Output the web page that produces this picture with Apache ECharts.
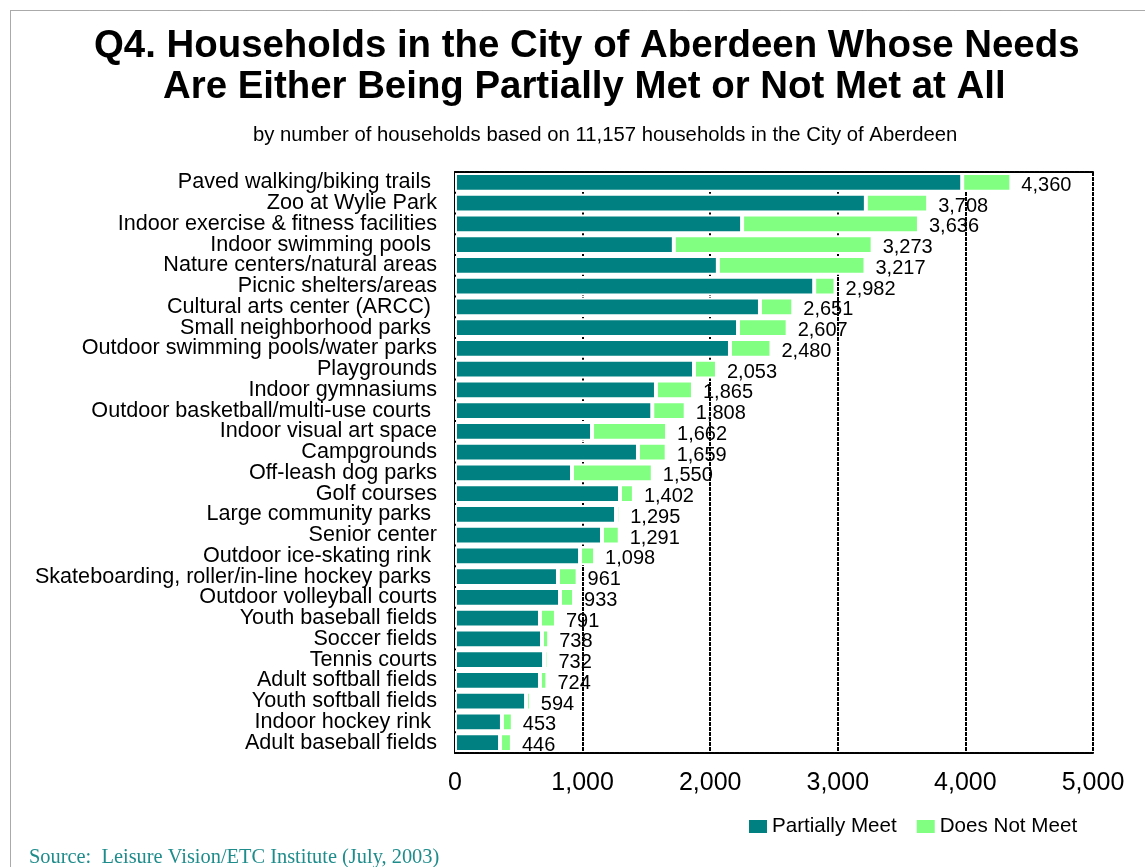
<!DOCTYPE html>
<html>
<head>
<meta charset="utf-8">
<title>Q4 Aberdeen households</title>
<script src="https://cdn.jsdelivr.net/npm/echarts@6/dist/echarts.min.js"></script>
<style>
  html, body { margin: 0; padding: 0; background: #fff; }
  #main { width: 1145px; height: 867px; }
</style>
</head>
<body>
<div id="main"></div>
<script>
  // facilities, top to bottom
  const categories = [
    'Paved walking/biking trails ', 'Zoo at Wylie Park', 'Indoor exercise & fitness facilities',
    'Indoor swimming pools ', 'Nature centers/natural areas', 'Picnic shelters/areas',
    'Cultural arts center (ARCC) ', 'Small neighborhood parks ', 'Outdoor swimming pools/water parks',
    'Playgrounds', 'Indoor gymnasiums', 'Outdoor basketball/multi-use courts ',
    'Indoor visual art space', 'Campgrounds', 'Off-leash dog parks', 'Golf courses',
    'Large community parks ', 'Senior center', 'Outdoor ice-skating rink ',
    'Skateboarding, roller/in-line hockey parks ', 'Outdoor volleyball courts', 'Youth baseball fields',
    'Soccer fields', 'Tennis courts', 'Adult softball fields', 'Youth softball fields',
    'Indoor hockey rink ', 'Adult baseball fields'
  ]
  // total households (partially + not met), as labelled
  const totals = [4360, 3708, 3636, 3273, 3217, 2982, 2651, 2607, 2480, 2053, 1865, 1808, 1662, 1659,
    1550, 1402, 1295, 1291, 1098, 961, 933, 791, 738, 732, 724, 594, 453, 446]
  // partially meet part
  const partiallyMeet = [3975, 3220, 2250, 1715, 2060, 2815, 2390, 2218, 2155, 1873, 1575, 1546, 1074, 1434,
    917, 1293, 1262, 1152, 980, 807, 823, 666, 682, 698, 666, 557, 368, 353]
  const doesNotMeet = totals.map((t, i) => t - partiallyMeet[i])
  const xTicks = [0, 1000, 2000, 3000, 4000, 5000]

  const fmt = (v) => Number(v).toLocaleString('en-US')
  const sans = 'Liberation Sans, Arial, sans-serif'
  const gridDash = [4, 1]

  const chart = echarts.init(document.getElementById('main'))
  const option = {
    backgroundColor: '#fff',
    animation: false,
    textStyle: { fontFamily: sans, color: '#000' },
    graphic: [
      {
        type: 'rect',
        left: 8, top: 8,
        shape: { width: 1400, height: 1100 },
        style: { fill: 'none', stroke: '#555', lineWidth: 1, lineDash: [1, 1] },
        silent: true
      }
    ],
    title: [
      {
        text: 'Q4. Households in the City of Aberdeen Whose Needs',
        left: 89,
        top: 22,
        textStyle: { fontFamily: sans, fontSize: 38.4, fontWeight: 'bold', color: '#000' }
      },
      {
        text: 'Are Either Being Partially Met or Not Met at All',
        left: 158,
        top: 63,
        textStyle: { fontFamily: sans, fontSize: 38.4, fontWeight: 'bold', color: '#000' }
      },
      {
        text: 'by number of households based on 11,157 households in the City of Aberdeen',
        left: 248,
        top: 120,
        textStyle: { fontFamily: sans, fontSize: 20.3, fontWeight: 'normal', color: '#000' }
      },
      {
        text: 'Source:  Leisure Vision/ETC Institute (July, 2003)',
        left: 24,
        top: 843,
        textStyle: { fontFamily: 'Liberation Serif, Times New Roman, serif', fontSize: 20.4, fontWeight: 'normal', color: '#1f8c8c' }
      }
    ],
    legend: {
      left: 744,
      top: 811,
      icon: 'rect',
      itemWidth: 18,
      itemHeight: 13,
      itemGap: 20,
      itemStyle: { borderWidth: 0 },
      textStyle: { fontFamily: sans, fontSize: 20.6, color: '#000' },
      data: ['Partially Meet', 'Does Not Meet']
    },
    grid: {
      left: 455,
      right: 52,
      top: 172,
      bottom: 114,
      containLabel: false
    },
    xAxis: [
      {
        type: 'value',
        min: xTicks[0],
        max: xTicks[xTicks.length - 1],
        interval: 1000,
        axisLine: { show: true, lineStyle: { color: '#000', width: 2, type: gridDash } },
        axisTick: { show: false },
        axisLabel: { fontFamily: sans, fontSize: 25, color: '#000', margin: 18, formatter: fmt },
        splitLine: { show: true, lineStyle: { color: '#000', width: 2, type: gridDash } }
      },
      {
        type: 'value',
        position: 'top',
        min: xTicks[0],
        max: xTicks[xTicks.length - 1],
        interval: 1000,
        axisLine: { show: true, lineStyle: { color: '#000', width: 2, type: gridDash } },
        axisTick: { show: false },
        axisLabel: { show: false },
        splitLine: { show: false }
      }
    ],
    yAxis: {
      type: 'category',
      inverse: true,
      data: categories,
      axisLine: { show: true, lineStyle: { color: '#000', width: 2 } },
      axisTick: { show: false },
      axisLabel: { interval: 0, fontFamily: sans, fontSize: 21.6, color: '#000', margin: 18 }
    },
    series: [
      {
        name: 'Partially Meet',
        type: 'bar',
        stack: 'needs',
        barCategoryGap: '10%',
        itemStyle: { color: '#008080', borderColor: '#fff', borderWidth: 2 },
        data: partiallyMeet
      },
      {
        name: 'Does Not Meet',
        type: 'bar',
        stack: 'needs',
        barCategoryGap: '10%',
        itemStyle: { color: '#80ff80', borderColor: '#fff', borderWidth: 2 },
        label: {
          show: true,
          position: 'right',
          distance: 10,
          offset: [0, 3],
          fontFamily: sans,
          fontSize: 20,
          color: '#000',
          formatter: (p) => fmt(totals[p.dataIndex])
        },
        data: doesNotMeet
      }
    ]
  }
  chart.setOption(option)
</script>
</body>
</html>
